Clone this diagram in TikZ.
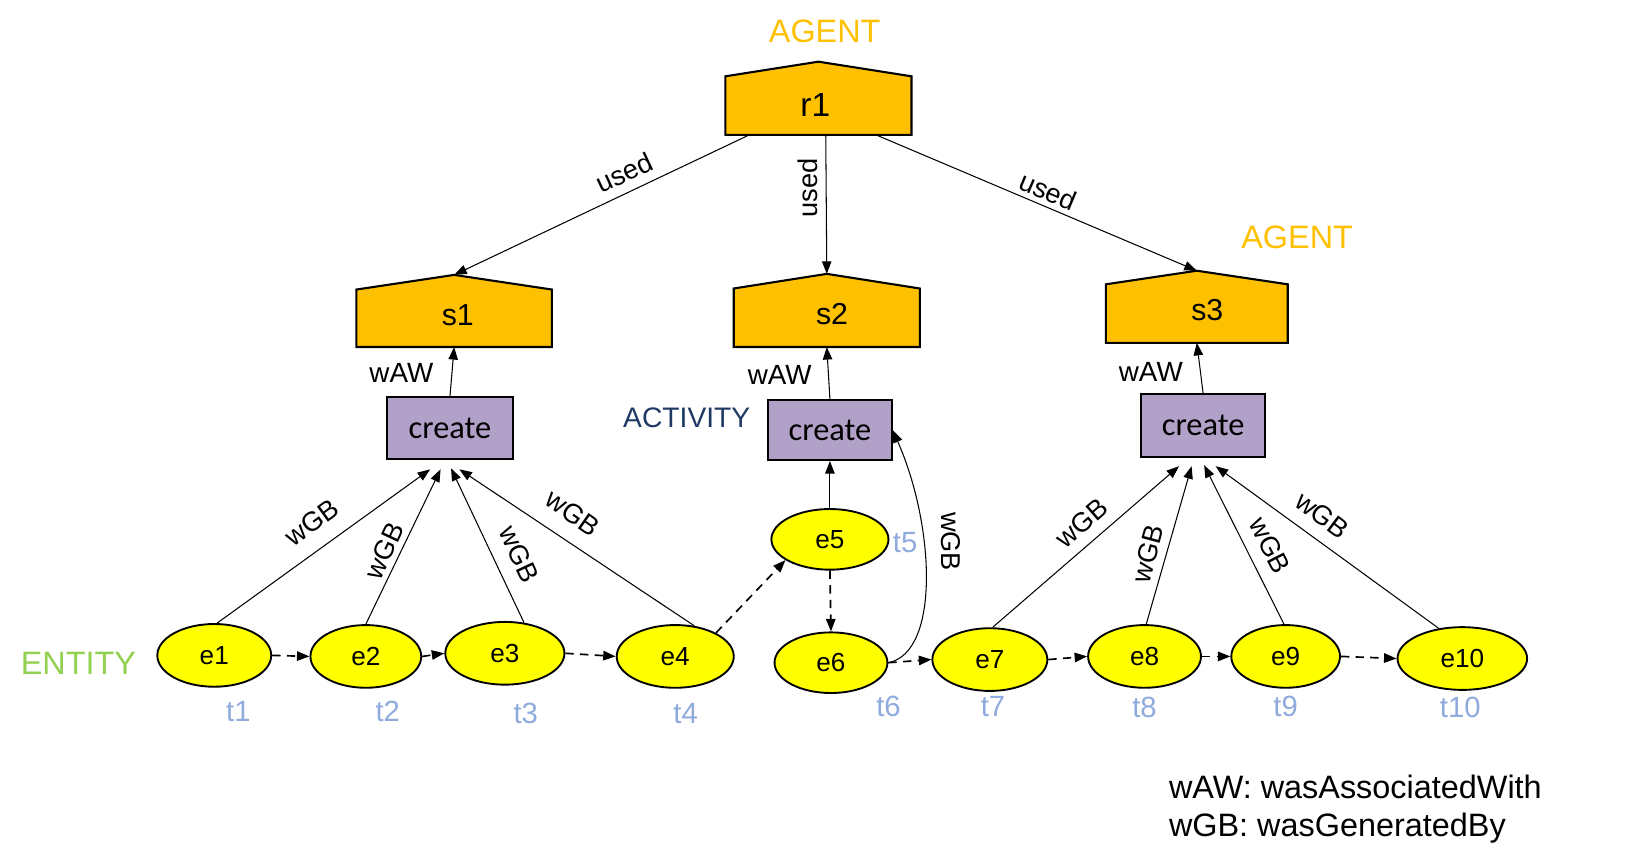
\documentclass[tikz,border=0pt]{standalone}
\usepackage{fontspec}
\setmainfont{Liberation Sans}
\newfontfamily\carlitofont{Carlito}
\usetikzlibrary{arrows.meta,calc,shapes.geometric}
\definecolor{agentor}{HTML}{FFC000}
\definecolor{actpurple}{HTML}{B1A0C7}
\definecolor{entyellow}{HTML}{FFFF00}
\definecolor{entgreen}{HTML}{92D050}
\definecolor{tblue}{HTML}{8FAADC}
\definecolor{actnavy}{HTML}{1F3864}
\pgfdeclarelayer{bg}
\pgfsetlayers{bg,main}
\newcommand\drawhouse[2]{\begin{pgfonlayer}{bg}\draw[housefill] (#1.south west) -- (#1.north west) -- ($(#1.north)+(0,-#2)$) -- (#1.north east) -- (#1.south east) -- cycle;\end{pgfonlayer}}
\begin{document}
\begin{tikzpicture}[x=0.5pt,y=-0.5pt,
  housefill/.style={fill=agentor, draw=black, line width=1pt, line join=miter},
  housebody/.style={inner sep=0pt, outer sep=0pt},
  housetxt/.style={inner sep=0pt, font=\fontsize{14.5}{17}\selectfont},
  actbox/.style={draw=black, fill=actpurple, line width=1pt, inner sep=0pt, font=\carlitofont\fontsize{15.5}{18}\selectfont},
  entnode/.style={ellipse, draw=black, fill=entyellow, line width=0.9pt, inner sep=0pt, font=\fontsize{12.5}{15}\selectfont},
  rel/.style={line width=0.5pt, -{Triangle[length=6pt,width=4.5pt]}},
  seq/.style={line width=0.8pt, dash pattern=on 4pt off 3pt, -{Triangle[length=6pt,width=4.5pt]}},
  edgelab/.style={font=\fontsize{13}{15}\selectfont, inner sep=0pt},
  tlab/.style={text=tblue, font=\fontsize{14}{16}\selectfont, inner sep=0pt},
  catlab/.style={font=\fontsize{15.5}{18}\selectfont, inner sep=0pt}]
\useasboundingbox (0,0) rectangle (1569,830);

% category labels
\node[catlab, text=agentor] (agentA) at (789,30) {AGENT};
\node[catlab, text=agentor] (agentB) at (1241,227) {AGENT};
\node[catlab, text=actnavy, font=\fontsize{13.5}{16}\selectfont] (actlab) at (657,400) {ACTIVITY};
\node[catlab, text=entgreen] (entlab) at (75,635) {ENTITY};

% agents
\node[housebody, minimum width=89pt, minimum height=28pt] (r1) at (783,101) {};
\drawhouse{r1}{14}
\node[housetxt, font=\fontsize{16}{19}\selectfont] (r1t) at (780,100) {r1};
\node[housebody, minimum width=93.5pt, minimum height=27.5pt] (s1) at (434.5,304.5) {};
\drawhouse{s1}{14}
\node[housetxt] (s1t) at (438,302) {s1};
\node[housebody, minimum width=89pt, minimum height=28pt] (s2) at (791,304) {};
\drawhouse{s2}{14}
\node[housetxt] (s2t) at (796,300) {s2};
\node[housebody, minimum width=87pt, minimum height=28pt] (s3) at (1145,300) {};
\drawhouse{s3}{13}
\node[housetxt] (s3t) at (1155,297) {s3};

\coordinate (s1apex) at ($(s1.north)+(0,-14)$);
\coordinate (s2apex) at ($(s2.north)+(0,-14)$);
\coordinate (s3apex) at ($(s3.north)+(0,-13)$);

% activities
\node[actbox, minimum width=60.5pt, minimum height=29.5pt] (c1) at (430.5,409.5) {create};
\node[actbox, minimum width=59pt, minimum height=28.5pt] (c2) at (794,411.5) {create};
\node[actbox, minimum width=59pt, minimum height=30pt] (c3) at (1151,407) {create};

% entities
\node[entnode, minimum width=54.5pt, minimum height=30pt] (e1) at (205,627) {e1};
\node[entnode, minimum width=53pt, minimum height=30pt] (e2) at (350,628) {e2};
\node[entnode, minimum width=57pt, minimum height=30pt] (e3) at (483,625) {e3};
\node[entnode, minimum width=56pt, minimum height=30pt] (e4) at (646,628) {e4};
\node[entnode, minimum width=56pt, minimum height=29pt] (e5) at (794,516) {e5};
\node[entnode, minimum width=54pt, minimum height=29pt] (e6) at (795,634) {e6};
\node[entnode, minimum width=55pt, minimum height=30pt] (e7) at (947,631) {e7};
\node[entnode, minimum width=54pt, minimum height=30pt] (e8) at (1095,628) {e8};
\node[entnode, minimum width=52pt, minimum height=30pt] (e9) at (1230,628) {e9};
\node[entnode, minimum width=62pt, minimum height=30pt] (e10) at (1399,630) {e10};

% time labels
\node[tlab] (t1) at (228,681) {t1};
\node[tlab] (t2) at (371,681) {t2};
\node[tlab] (t3) at (503,683) {t3};
\node[tlab] (t4) at (656,683) {t4};
\node[tlab] (t5) at (866,519) {t5};
\node[tlab] (t6) at (850,676) {t6};
\node[tlab] (t7) at (950,676) {t7};
\node[tlab] (t8) at (1095,677) {t8};
\node[tlab] (t9) at (1230,676) {t9};
\node[tlab] (t10) at (1397,677) {t10};

% used
\draw[rel] ($(r1.south)+(-66,0)$) -- (s1apex);
\draw[rel] ($(r1.south)+(7,0)$) -- (s2apex);
\draw[rel] ($(r1.south)+(55,0)$) -- (s3apex);
\node[edgelab, rotate=25] (u1) at (597,165) {used};
\node[edgelab, rotate=90] (u2) at (773,180) {used};
\node[edgelab, rotate=-23] (u3) at (1003,183) {used};

% wAW
\draw[rel] (c1.north) -- (s1.south);
\draw[rel] (c2.north) -- (s2.south);
\draw[rel] (c3.north) -- (s3.south);
\node[edgelab, font=\fontsize{13.3}{16}\selectfont] (w1) at (384,357) {wAW};
\node[edgelab, font=\fontsize{13.3}{16}\selectfont] (w2) at (746,359) {wAW};
\node[edgelab, font=\fontsize{13.3}{16}\selectfont] (w3) at (1101,356) {wAW};

% wGB group 1
\draw[rel] (e1.85) -- ($(c1.south)+(-19,9)$);
\draw[rel] (e2.90) -- ($(c1.south)+(-9,9)$);
\draw[rel] (e3.58) -- ($(c1.south)+(1,8)$);
\draw[rel] (e4.58) -- ($(c1.south)+(9,9)$);
\node[edgelab, rotate=36] (g1) at (298,500) {wGB};
\node[edgelab, rotate=65] (g2) at (368,527) {wGB};
\node[edgelab, rotate=-65] (g3) at (497,530) {wGB};
\node[edgelab, rotate=-35] (g4) at (548,491) {wGB};

% wGB group 2
\draw[rel] (e5.north) -- (c2.south);
\draw[rel] (e6.east) .. controls +(50,-10) and +(40,90) .. (c2.east);
\node[edgelab, rotate=-90] (g5) at (910,518) {wGB};

% wGB group 3
\draw[rel] (e7.85) -- ($(c3.south)+(-23,8)$);
\draw[rel] (e8.87) -- ($(c3.south)+(-11,8)$);
\draw[rel] (e9.93) -- ($(c3.south)+(1,7)$);
\draw[rel] (e10.128) -- ($(c3.south)+(12,8)$);
\node[edgelab, rotate=41] (g7) at (1035,500) {wGB};
\node[edgelab, rotate=75] (g8) at (1098,530) {wGB};
\node[edgelab, rotate=-63] (g9) at (1215,522) {wGB};
\node[edgelab, rotate=-37] (g10) at (1265,493) {wGB};

% sequence
\draw[seq] (e1.east) -- (e2.west);
\draw[seq] (e2.east) -- (e3.west);
\draw[seq] (e3.east) -- (e4.west);
\draw[seq] (e4.30) -- (e5.205);
\draw[seq] (e5.south) -- (e6.north);
\draw[seq] (e6.east) -- (e7.west);
\draw[seq] (e7.east) -- (e8.west);
\draw[seq] (e8.east) -- (e9.west);
\draw[seq] (e9.east) -- (e10.west);

% legend
\node[catlab, anchor=west] (leg1) at (1118,753) {wAW: wasAssociatedWith};
\node[catlab, anchor=west] (leg2) at (1118,792) {wGB: wasGeneratedBy};
\end{tikzpicture}
\end{document}
